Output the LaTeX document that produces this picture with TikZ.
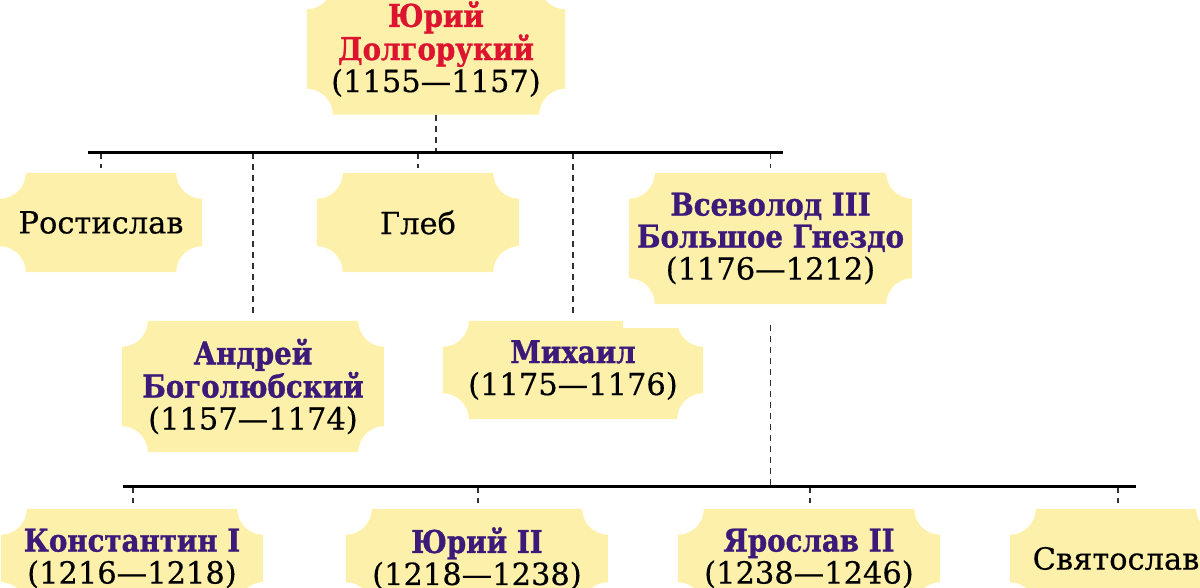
\documentclass[tikz,border=0pt]{standalone}
\usepackage{fontspec}
\setmainfont{DejaVu Serif}[UprightFeatures={FakeBold=0.4},BoldFeatures={Scale=1.03,FakeStretch=0.88,FakeBold=1}]
\usetikzlibrary{calc,backgrounds}
\definecolor{platefill}{HTML}{FDF0AA}
\definecolor{rednm}{HTML}{DC1430}
\definecolor{purplenm}{HTML}{3C1A7A}
\definecolor{dashgray}{HTML}{303030}
\newcommand{\rn}[1]{\textcolor{rednm}{\textbf{#1}}}
\newcommand{\pn}[1]{\textcolor{purplenm}{\textbf{#1}}}
\begin{document}
\begin{tikzpicture}[x=1pt,y=1pt,
  plate/.style={inner sep=0pt, align=center, font=\fontsize{30.5}{32}\selectfont, text=black},
  bar/.style={line width=3pt, black},
  link/.style={dashgray, line width=1.6pt, dash pattern=on 6pt off 5pt}]
\useasboundingbox (0,0) rectangle (1200,588);
% nodes
\node[plate, minimum width=258pt, minimum height=131pt] (yd) at (436,539)
  {\rn{Юрий}\\\rn{Долгорукий}\\(1155—1157)};
\node[plate, minimum width=202pt, minimum height=99pt] (rost) at (101,365.5) {Ростислав};
\node[plate, minimum width=202pt, minimum height=99pt] (gleb) at (418,365.5) {Глеб};
\node[plate, minimum width=283pt, minimum height=131pt] (vsev) at (770.5,349.5)
  {\pn{Всеволод III}\\\pn{Большое Гнездо}\\(1176—1212)};
\node[plate, minimum width=262pt, minimum height=131pt] (andr) at (253,201.5)
  {\pn{Андрей}\\\pn{Боголюбский}\\(1157—1174)};
\node[plate, minimum width=260pt, minimum height=98pt] (mikh) at (573,218)
  {\pn{Михаил}\\(1175—1176)};
\node[plate, minimum width=262pt, minimum height=99pt] (kons) at (132,29.5)
  {\pn{Константин I}\\(1216—1218)};
\node[plate, minimum width=262pt, minimum height=99pt] (yur) at (477,29.5)
  {\pn{Юрий II}\\(1218—1238)};
\node[plate, minimum width=262pt, minimum height=99pt] (yar) at (809,29.5)
  {\pn{Ярослав II}\\(1238—1246)};
\node[plate, minimum width=212pt, minimum height=99pt] (svyat) at (1116,29.5) {Святослав};
% plates
\begin{scope}[on background layer]
\foreach \nd in {yd,rost,gleb,vsev,andr,mikh,kons,yur,yar,svyat}{
  \fill[platefill] let \p1=(\nd.south west), \p2=(\nd.north east) in
    (\x1+26pt,\y2) -- (\x2-26pt,\y2) arc[start angle=180,end angle=270,radius=26pt]
    -- (\x2,\y1+26pt) arc[start angle=90,end angle=180,radius=26pt]
    -- (\x1+26pt,\y1) arc[start angle=0,end angle=90,radius=26pt]
    -- (\x1,\y2-26pt) arc[start angle=270,end angle=360,radius=26pt] -- cycle;
}
\fill[white] (623,260) rectangle (706,270);
\end{scope}
% bars
\coordinate (barA) at (88,435);
\coordinate (barB) at (783,435);
\coordinate (barC) at (123,101);
\coordinate (barD) at (1136,101);
% connectors
\draw[link] (yd.south) -- (yd.south |- barA);
\draw[link] (rost.north |- barA) -- ([yshift=5pt]rost.north);
\draw[link] (gleb.north |- barA) -- ([yshift=5pt]gleb.north);
\draw[link] (vsev.north |- barA) -- ([yshift=5pt]vsev.north);
\draw[link] (andr.north |- barA) -- ([yshift=8pt]andr.north);
\draw[link] (mikh.north |- barA) -- ([yshift=8pt]mikh.north);
\draw[link] ([yshift=-21pt]vsev.south) -- (vsev.south |- barC);
\draw[link] ([xshift=1pt]kons.north |- barC) -- ([xshift=1pt,yshift=6pt]kons.north);
\draw[link] ([xshift=1pt]yur.north |- barC) -- ([xshift=1pt,yshift=6pt]yur.north);
\draw[link] ([xshift=1pt]yar.north |- barC) -- ([xshift=1pt,yshift=6pt]yar.north);
\draw[link] ([xshift=2pt]svyat.north |- barC) -- ([xshift=2pt,yshift=6pt]svyat.north);
\draw[bar] (barA) -- (barB);
\draw[bar] (barC) -- (barD);
\end{tikzpicture}
\end{document}
